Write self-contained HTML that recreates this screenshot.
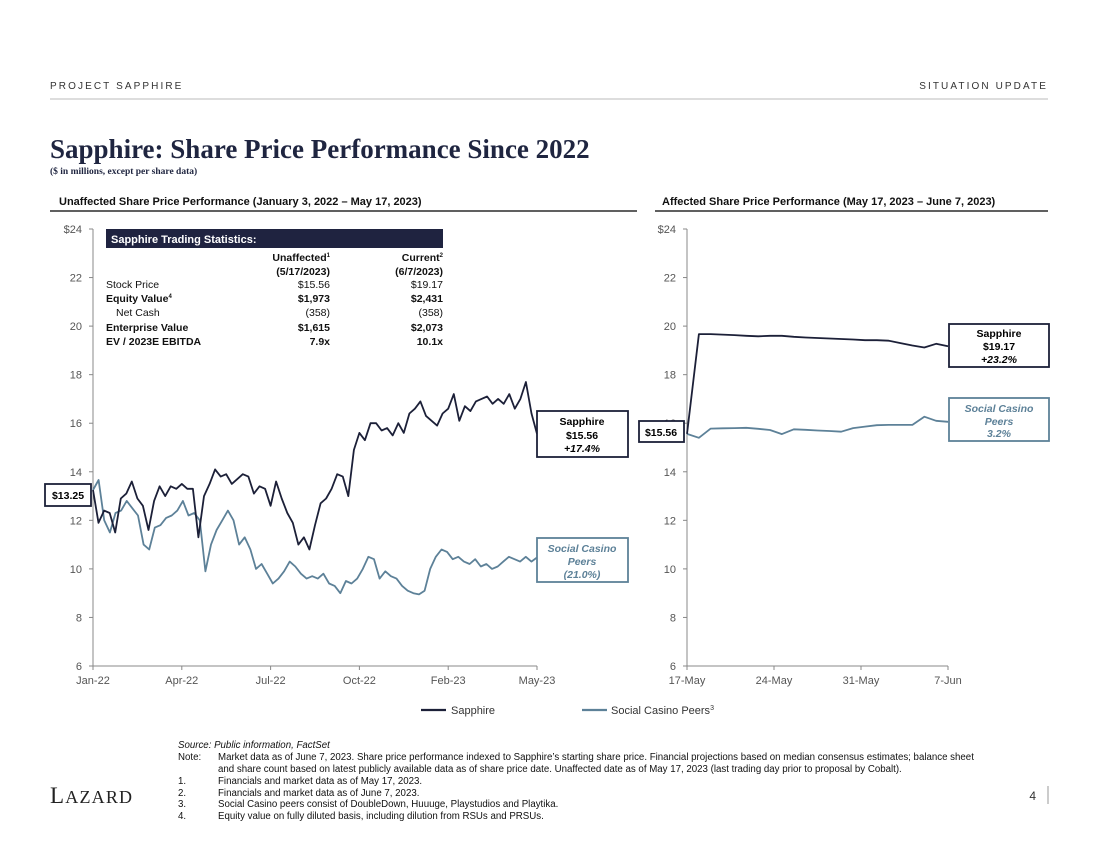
<!DOCTYPE html>
<html><head><meta charset="utf-8">
<style>
body{margin:0;background:#fff;width:1100px;height:849px;overflow:hidden;font-family:"Liberation Sans",sans-serif;}
svg text{font-family:"Liberation Sans",sans-serif;}
</style></head>
<body>
<svg id="s" width="1100" height="849" viewBox="0 0 1100 849" xmlns="http://www.w3.org/2000/svg">
<text x="50" y="89" font-size="10" letter-spacing="2.1" fill="#333">PROJECT SAPPHIRE</text>
<text x="1048" y="89" font-size="10" letter-spacing="2.1" fill="#333" text-anchor="end">SITUATION UPDATE</text>
<line x1="50" y1="99" x2="1048" y2="99" stroke="#bbb" stroke-width="1"/>
<text x="50" y="158" style="font-family:'Liberation Serif',serif" font-size="27" font-weight="bold" fill="#1f2540">Sapphire: Share Price Performance Since 2022</text>
<text x="50" y="174" style="font-family:'Liberation Serif',serif" font-size="9.5" font-weight="bold" fill="#1f2540">($ in millions, except per share data)</text>
<text x="59" y="205" font-size="11" font-weight="bold" fill="#111">Unaffected Share Price Performance (January 3, 2022 – May 17, 2023)</text>
<line x1="50" y1="211" x2="637" y2="211" stroke="#000" stroke-width="1.2"/>
<text x="662" y="205" font-size="11" font-weight="bold" fill="#111">Affected Share Price Performance (May 17, 2023 – June 7, 2023)</text>
<line x1="655" y1="211" x2="1048" y2="211" stroke="#000" stroke-width="1.2"/>
<g id="left"></g>
<g id="right"></g>

<g font-size="10.5" fill="#111">
<rect x="106" y="229" width="337" height="19" fill="#1f2340"/>
<text x="111" y="243" fill="#fff" font-weight="bold" font-size="11">Sapphire Trading Statistics:</text>
<g text-anchor="end" font-weight="bold">
<text x="330" y="261">Unaffected<tspan font-size="6" dy="-4">1</tspan></text>
<text x="330" y="275">(5/17/2023)</text>
<text x="443" y="261">Current<tspan font-size="6" dy="-4">2</tspan></text>
<text x="443" y="275">(6/7/2023)</text>
</g>
<text x="106" y="288">Stock Price</text><text x="330" y="288" text-anchor="end">$15.56</text><text x="443" y="288" text-anchor="end">$19.17</text>
<text x="106" y="302" font-weight="bold">Equity Value<tspan font-size="6" dy="-4">4</tspan></text><text x="330" y="302" text-anchor="end" font-weight="bold">$1,973</text><text x="443" y="302" text-anchor="end" font-weight="bold">$2,431</text>
<text x="116" y="316">Net Cash</text><text x="330" y="316" text-anchor="end">(358)</text><text x="443" y="316" text-anchor="end">(358)</text>
<text x="106" y="331" font-weight="bold">Enterprise Value</text><text x="330" y="331" text-anchor="end" font-weight="bold">$1,615</text><text x="443" y="331" text-anchor="end" font-weight="bold">$2,073</text>
<text x="106" y="345" font-weight="bold">EV / 2023E EBITDA</text><text x="330" y="345" text-anchor="end" font-weight="bold">7.9x</text><text x="443" y="345" text-anchor="end" font-weight="bold">10.1x</text>
</g>

<g><rect x="45" y="484" width="46" height="22" fill="#fff" stroke="#1c2038" stroke-width="1.8"/><text x="68" y="499" font-size="10.5" font-weight="bold" text-anchor="middle">$13.25</text></g>
<g><rect x="537" y="411" width="91" height="46" fill="#fff" stroke="#1c2038" stroke-width="1.8"/><text x="582" y="425" font-size="10.5" font-weight="bold" text-anchor="middle">Sapphire</text><text x="582" y="439" font-size="10.5" font-weight="bold" text-anchor="middle">$15.56</text><text x="582" y="452" font-size="10.5" font-weight="bold" font-style="italic" text-anchor="middle">+17.4%</text></g>
<g><rect x="537" y="538" width="91" height="44" fill="#fff" stroke="#5d8198" stroke-width="1.8"/><text x="582" y="552" font-size="10.5" font-weight="bold" font-style="italic" fill="#5d8198" text-anchor="middle">Social Casino</text><text x="582" y="565" font-size="10.5" font-weight="bold" font-style="italic" fill="#5d8198" text-anchor="middle">Peers</text><text x="582" y="578" font-size="10.5" font-weight="bold" font-style="italic" fill="#5d8198" text-anchor="middle">(21.0%)</text></g>
<g><rect x="639" y="421" width="45" height="21" fill="#fff" stroke="#1c2038" stroke-width="1.8"/><text x="661" y="436" font-size="10.5" font-weight="bold" text-anchor="middle">$15.56</text></g>
<g><rect x="949" y="324" width="100" height="43" fill="#fff" stroke="#1c2038" stroke-width="1.8"/><text x="999" y="337" font-size="10.5" font-weight="bold" text-anchor="middle">Sapphire</text><text x="999" y="350" font-size="10.5" font-weight="bold" text-anchor="middle">$19.17</text><text x="999" y="363" font-size="10.5" font-weight="bold" font-style="italic" text-anchor="middle">+23.2%</text></g>
<g><rect x="949" y="398" width="100" height="43" fill="#fff" stroke="#5d8198" stroke-width="1.8"/><text x="999" y="412" font-size="10.5" font-weight="bold" font-style="italic" fill="#5d8198" text-anchor="middle">Social Casino</text><text x="999" y="425" font-size="10.5" font-weight="bold" font-style="italic" fill="#5d8198" text-anchor="middle">Peers</text><text x="999" y="437" font-size="10.5" font-weight="bold" font-style="italic" fill="#5d8198" text-anchor="middle">3.2%</text></g>

<g font-size="11" fill="#333">
<line x1="421" y1="710" x2="446" y2="710" stroke="#1c2038" stroke-width="2.2"/>
<text x="451" y="714">Sapphire</text>
<line x1="582" y1="710" x2="607" y2="710" stroke="#5d8198" stroke-width="2.2"/>
<text x="611" y="714">Social Casino Peers<tspan font-size="7" dy="-4">3</tspan></text>
</g>

<g font-size="9.7" fill="#111">
<text x="178" y="748" font-style="italic">Source:  Public information, FactSet</text>
<text x="178" y="760">Note:</text><text x="218" y="760">Market data as of June 7, 2023. Share price performance indexed to Sapphire’s starting share price. Financial projections based on median consensus estimates; balance sheet</text>
<text x="218" y="772">and share count based on latest publicly available data as of share price date. Unaffected date as of May 17, 2023 (last trading day prior to proposal by Cobalt).</text>
<text x="178" y="784">1.</text><text x="218" y="784">Financials and market data as of May 17, 2023.</text>
<text x="178" y="796">2.</text><text x="218" y="796">Financials and market data as of June 7, 2023.</text>
<text x="178" y="807">3.</text><text x="218" y="807">Social Casino peers consist of DoubleDown, Huuuge, Playstudios and Playtika.</text>
<text x="178" y="819">4.</text><text x="218" y="819">Equity value on fully diluted basis, including dilution from RSUs and PRSUs.</text>
</g>
<text x="50" y="803" style="font-family:'Liberation Serif',serif" font-size="23" letter-spacing="1.2" fill="#222">L<tspan font-size="18">AZARD</tspan></text>
<text x="1036" y="800" font-size="12" fill="#333" text-anchor="end">4</text>
<line x1="1048" y1="786" x2="1048" y2="804" stroke="#999"/>
</svg>
<script>
const yTicks=[6,8,10,12,14,16,18,20,22,24];
const leftXLabels=["Jan-22","Apr-22","Jul-22","Oct-22","Feb-23","May-23"];
const rightXLabels=["17-May","24-May","31-May","7-Jun"];
const leftSapphire=[13.25,11.9,12.4,12.3,11.5,12.9,13.1,13.6,12.9,12.6,11.6,12.8,13.4,13.0,13.4,13.3,13.5,13.3,13.3,11.3,13.0,13.5,14.1,13.8,13.9,13.5,13.7,13.9,13.8,13.1,13.4,13.3,12.6,13.6,12.9,12.3,11.9,11.0,11.3,10.8,11.8,12.7,12.9,13.3,13.9,13.8,13.0,14.9,15.6,15.3,16.0,16.0,15.7,15.8,15.5,16.0,15.6,16.4,16.6,16.9,16.3,16.1,15.9,16.4,16.6,17.2,16.1,16.7,16.5,16.9,17.0,17.1,16.8,17.0,16.8,17.2,16.6,17.0,17.7,16.4,15.56];
const leftPeers=[13.25,13.66,12.0,11.5,12.3,12.4,12.8,12.5,12.2,11.0,10.8,11.7,11.8,12.1,12.2,12.4,12.8,12.2,12.3,12.0,9.9,11.0,11.6,12.0,12.4,12.0,11.0,11.3,10.8,10.0,10.2,9.8,9.4,9.6,9.9,10.3,10.1,9.8,9.6,9.7,9.6,9.8,9.4,9.3,9.0,9.5,9.4,9.6,10.0,10.5,10.4,9.6,9.9,9.7,9.6,9.3,9.1,9.0,8.95,9.1,10.0,10.5,10.8,10.7,10.4,10.5,10.3,10.2,10.4,10.1,10.2,10.0,10.1,10.3,10.5,10.4,10.3,10.5,10.3,10.47];
const rightSapphire=[15.56,19.67,19.67,19.65,19.63,19.6,19.58,19.6,19.6,19.56,19.53,19.51,19.49,19.47,19.45,19.42,19.42,19.4,19.3,19.2,19.12,19.27,19.17];
const rightPeers=[15.56,15.4,15.78,15.79,15.8,15.81,15.77,15.72,15.55,15.75,15.73,15.7,15.68,15.65,15.8,15.86,15.92,15.93,15.93,15.93,16.27,16.1,16.06];
const NS="http://www.w3.org/2000/svg";
const yTop=229,yBot=666;
function yScale(v){return yBot-(v-6)/18*(yBot-yTop);}
function mk(tag,attrs,parent,txt){const e=document.createElementNS(NS,tag);for(const k in attrs)e.setAttribute(k,attrs[k]);if(txt!==undefined)e.textContent=txt;parent.appendChild(e);return e;}
function axes(g,x0,x1,labels){
  const a=mk('line',{x1:x0,y1:yTop,x2:x0,y2:yBot,stroke:'#888'},g);
  
  
  const b=mk('line',{x1:x0,y1:yBot,x2:x1,y2:yBot,stroke:'#888'},g);
  
  
  yTicks.forEach(v=>{const y=yScale(v);
    mk('line',{x1:x0-4,y1:y,x2:x0,y2:y,stroke:'#888'},g);
    const t=mk('text',{x:x0-11,y:y+4,'font-size':11,fill:'#555','text-anchor':'end'},g,v===24?'$24':String(v));
    
    });
  labels.forEach((l,i)=>{const x=x0+(x1-x0)*i/(labels.length-1);
    mk('line',{x1:x,y1:yBot,x2:x,y2:yBot+4,stroke:'#888'},g);
    const t=mk('text',{x:x,y:yBot+18,'font-size':11,fill:'#555','text-anchor':'middle'},g,l);
    
    });
}
function series(g,vals,x0,x1,color,name){
  const d=vals.map((v,i)=>(i?'L':'M')+(x0+(x1-x0)*i/(vals.length-1)).toFixed(1)+','+yScale(v).toFixed(1)).join('');
  const p=mk('path',{d:d,fill:'none',stroke:color,'stroke-width':1.8,'stroke-linejoin':'round'},g);
  
  
}
const L=document.getElementById('left'),R=document.getElementById('right');
axes(L,93,537,leftXLabels);
series(L,leftPeers,93,537,'#5d8198','peers-line-left');
series(L,leftSapphire,93,537,'#1c2038','sapphire-line-left');
axes(R,687,948,rightXLabels);
series(R,rightPeers,687,948,'#5d8198','peers-line-right');
series(R,rightSapphire,687,948,'#1c2038','sapphire-line-right');
</script>
</body></html>
